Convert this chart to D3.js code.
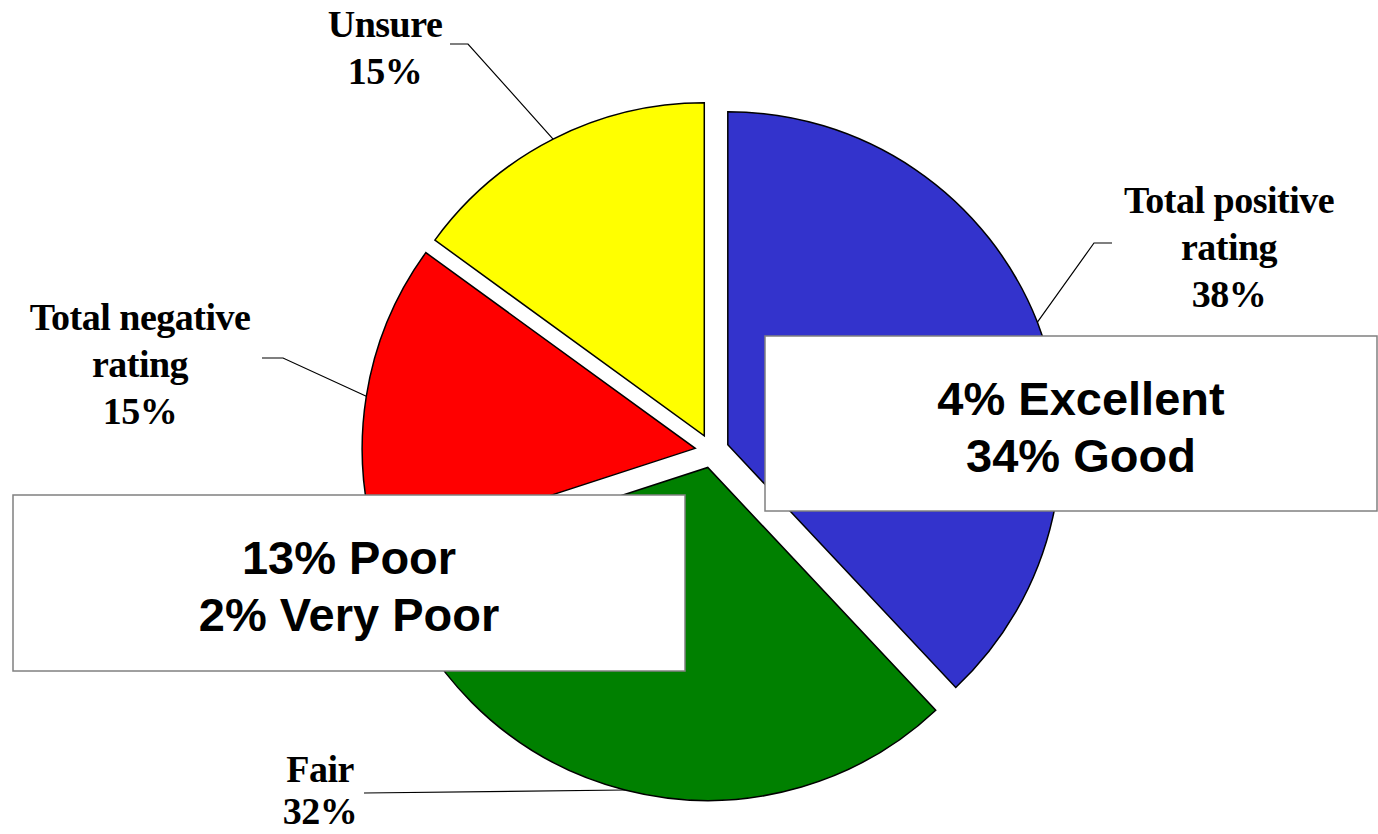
<!DOCTYPE html>
<html>
<head>
<meta charset="utf-8">
<script src="https://cdn.jsdelivr.net/npm/d3@7"></script>
<style>
  html, body { margin: 0; padding: 0; background: #fff; }
  svg { display: block; }
</style>
</head>
<body>
<div id="chart"></div>
<script>
// slices, clockwise from 12 o'clock
const categories = ["Total positive rating", "Fair", "Total negative rating", "Unsure"];
const values = [38, 32, 15, 15];
const colors = ["#3333cc", "#008000", "#ff0000", "#ffff00"];

// outer label lines (last line is the percent)
const labelLines = [
  ["Total positive", "rating"],
  ["Fair"],
  ["Total negative", "rating"],
  ["Unsure"]
];

// breakdown boxes
const boxLines = [
  ["4% Excellent", "34% Good"],
  ["13% Poor", "2% Very Poor"]
];

const width = 1378, height = 834;
const cx = 712, cy = 451, radius = 333, explode = 17;

const svg = d3.select("#chart").append("svg")
  .attr("width", width)
  .attr("height", height);

const pie = d3.pie().sort(null).value(d => d)(values);
const arc = d3.arc().innerRadius(0).outerRadius(radius);

// offset of each exploded slice
const shift = d => {
  const a = (d.startAngle + d.endAngle) / 2;
  return [Math.sin(a) * explode, -Math.cos(a) * explode];
};

svg.append("g")
  .attr("transform", `translate(${cx},${cy})`)
  .selectAll("path")
  .data(pie)
  .join("path")
  .attr("transform", d => `translate(${shift(d)})`)
  .attr("d", arc)
  .attr("fill", (d, i) => colors[i])
  .attr("stroke", "#000")
  .attr("stroke-width", 1.5)
  .attr("stroke-linejoin", "miter");

// leader elbows and label anchors (layout)
const leaders = [
  { elbow: [1094, 243], end: [1112, 243], tx: 1229, ty: 213, gap: 47 },
  { elbow: [364, 793], end: [364, 793], tx: 320, ty: 782, gap: 42 },
  { elbow: [283, 358], end: [262, 358], tx: 140, ty: 330, gap: 47 },
  { elbow: [468, 44], end: [450, 44], tx: 385, ty: 37, gap: 47 }
];

const rimPoint = d => {
  const a = (d.startAngle + d.endAngle) / 2;
  const s = shift(d);
  return [cx + s[0] + Math.sin(a) * radius, cy + s[1] - Math.cos(a) * radius];
};

svg.append("g")
  .selectAll("polyline")
  .data(pie)
  .join("polyline")
  .attr("points", (d, i) => [rimPoint(d), leaders[i].elbow, leaders[i].end].map(p => p.join(",")).join(" "))
  .attr("fill", "none")
  .attr("stroke", "#000")
  .attr("stroke-width", 1.2);

const labels = svg.append("g")
  .selectAll("text")
  .data(pie)
  .join("text")
  .attr("x", (d, i) => leaders[i].tx)
  .attr("y", (d, i) => leaders[i].ty)
  .attr("text-anchor", "middle")
  .style("font-family", "'Liberation Serif', 'Times New Roman', serif")
  .style("font-weight", "bold")
  .style("font-size", "38px")
  .style("letter-spacing", "-0.5px");

labels.selectAll("tspan")
  .data((d, i) => labelLines[i].concat([d3.format(".0f")(values[i]) + "%"]).map(t => ({ t, gap: leaders[i].gap })))
  .join("tspan")
  .attr("x", function () { return d3.select(this.parentNode).attr("x"); })
  .attr("dy", (d, j) => j === 0 ? 0 : d.gap)
  .text(d => d.t);

// white breakdown boxes over the pie
const boxes = [
  { x: 765, y: 336, w: 612, h: 175 },
  { x: 13, y: 495, w: 672, h: 176 }
];

const box = svg.append("g")
  .selectAll("g")
  .data(boxes)
  .join("g");

box.append("rect")
  .attr("x", d => d.x)
  .attr("y", d => d.y)
  .attr("width", d => d.w)
  .attr("height", d => d.h)
  .attr("fill", "#fff")
  .attr("stroke", "#808080")
  .attr("stroke-width", 1.5);

box.append("text")
  .attr("text-anchor", "middle")
  .style("font-family", "'Liberation Sans', Arial, sans-serif")
  .style("font-weight", "bold")
  .style("font-size", "47px")
  .selectAll("tspan")
  .data((d, i) => boxLines[i].map((t, j) => ({ t, j, b: d })))
  .join("tspan")
  .attr("x", d => d.b.x + d.b.w / 2 + 10 * (d.b.x > 100 ? 1 : 0))
  .attr("y", d => d.b.y + 79 + d.j * 57)
  .text(d => d.t);
</script>
</body>
</html>
